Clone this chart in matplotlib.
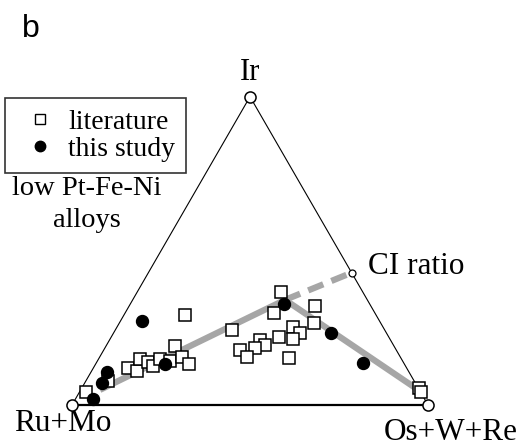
import numpy as np
import matplotlib
matplotlib.use("Agg")
import matplotlib.pyplot as plt
from matplotlib.lines import Line2D

# compositions in %, Ru+Mo = 100 - Ir - (Os+W+Re)
lit_ir = [4.1, 7.8, 11.9, 11.1, 14.9, 14.0, 12.6, 14.9, 14.3, 19.0, 15.7, 13.2,
          29.2, 24.3, 36.8, 29.7, 32.0, 26.7, 25.3, 23.5, 21.3, 22.1, 21.1, 19.6,
          18.4, 17.7, 15.5, 15.1, 5.4, 4.2]
lit_os = [1.8, 6.2, 9.9, 12.6, 11.6, 14.4, 16.5, 17.3, 20.4, 19.4, 23.0, 26.3,
          17.1, 32.9, 40.3, 41.9, 52.3, 54.6, 49.3, 52.3, 51.5, 47.2, 42.3, 44.4,
          42.2, 38.4, 41.4, 53.5, 94.9, 95.9]

study_ir = [2.1, 7.0, 10.7, 27.3, 13.3, 32.9, 23.5, 13.6]
study_os = [4.9, 4.9, 4.4, 6.0, 19.5, 43.2, 61.0, 75.0]

# fractionation trend and extrapolation towards chondritic Ir/Os
trend_ir = [4.9, 34.1, 4.9]
trend_os = [5.4, 42.8, 94.8]
ci_ir, ci_os = 42.9, 57.1

corner_ir = [100, 0, 0]
corner_os = [0, 0, 100]


def tern(ir, os_):
    ir = np.asarray(ir, dtype=float) / 100.0
    os_ = np.asarray(os_, dtype=float) / 100.0
    return os_ + ir / 2.0, ir * np.sqrt(3) / 2.0


plt.rcParams['font.family'] = ['Liberation Serif', 'DejaVu Serif']

fig = plt.figure(figsize=(5.22, 4.46), dpi=100)
ax = fig.add_axes([0, 0, 1, 1])
ax.set_xlim(-0.2022, 1.2640)
ax.set_ylim(-0.1152, 1.1376)
ax.axis('off')

# triangle
cx, cy = tern(corner_ir, corner_os)
ax.plot([cx[1], cx[0], cx[2]], [cy[1], cy[0], cy[2]], color='k', lw=0.8, zorder=2)
ax.plot([cx[1], cx[2]], [cy[1], cy[2]], color='k', lw=1.6, zorder=2)

gray = '#a6a6a6'
tx, ty = tern(trend_ir, trend_os)
ax.plot(tx, ty, color=gray, lw=4.5, solid_capstyle='butt', zorder=3)
px, py = tern([trend_ir[1], ci_ir], [trend_os[1], ci_os])
ax.plot(px, py, color=gray, lw=4.5, dashes=(2.6, 1.4), dash_capstyle='butt', zorder=3)

lx, ly = tern(lit_ir, lit_os)
ax.plot(lx, ly, 's', ms=8, mfc='white', mec='k', mew=1.1, ls='none', zorder=4)
sx, sy = tern(study_ir, study_os)
ax.plot(sx, sy, 'o', ms=8.6, mfc='k', mec='k', ls='none', zorder=5)

ax.plot(cx, cy, 'o', ms=8, mfc='white', mec='k', mew=1.1, ls='none', zorder=6, clip_on=False)
ix, iy = tern(ci_ir, ci_os)
ax.plot(ix, iy, 'o', ms=5, mfc='white', mec='k', mew=0.9, ls='none', zorder=6)

ax.text(0.5, 0.913, 'Ir', fontsize=22, ha='center', va='baseline')
ax.text(-0.025, -0.073, 'Ru+Mo', fontsize=22.5, ha='center', va='baseline')
ax.text(1.065, -0.098, 'Os+W+Re', fontsize=22.5, ha='center', va='baseline')
ax.text(ix + 0.045, 0.368, 'CI ratio', fontsize=22.5, ha='left', va='baseline')
ax.text(0.042, 0.590, 'low Pt-Fe-Ni', fontsize=20.5, ha='center', va='baseline')
ax.text(0.042, 0.500, 'alloys', fontsize=20.5, ha='center', va='baseline')
ax.text(-0.115, 1.034, 'b', fontsize=23, ha='center', va='baseline', family='Liberation Sans')

handles = [Line2D([], [], marker='s', ms=7, mfc='white', mec='k', mew=1.0, ls='none'),
           Line2D([], [], marker='o', ms=7.5, mfc='k', mec='k', ls='none')]
leg = ax.legend(handles, ['literature', 'this study'], loc='upper left',
                bbox_to_anchor=(5 / 522, 1 - 98 / 446), bbox_transform=fig.transFigure,
                fontsize=20, frameon=True, fancybox=False, borderaxespad=0,
                borderpad=0.4, handlelength=1.72, handletextpad=0.15, labelspacing=0.06)
leg.get_frame().set_edgecolor('k')
leg.get_frame().set_linewidth(1.2)

fig.savefig('out.png', dpi=100)
